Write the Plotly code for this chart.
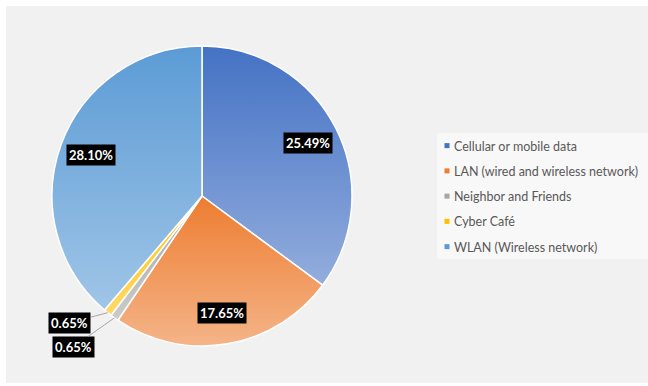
import json
import math
import plotly.graph_objects as go

# Internet access sources and their shares (percent of respondents)
categories = [
    "Cellular or mobile data",
    "LAN (wired and wireless network)",
    "Neighbor and Friends",
    "Cyber Café",
    "WLAN (Wireless network)",
]
shares = [25.49, 17.65, 0.65, 0.65, 28.10]
share_labels = ["25.49%", "17.65%", "0.65%", "0.65%", "28.10%"]
slice_colors = ["#4472C4", "#ED7D31", "#A5A5A5", "#FFC000", "#5B9BD5"]

W, H = 648, 386
CX, CY, R = 202, 196, 150          # pie centre / radius in pixels
LABEL_RADIUS = 0.79                # inside labels sit at 79% of the radius
# pixel offsets of the call-out boxes for the thin slices (by slice index)
callout_offsets = {2: (-41, 29), 3: (-38, 10)}


def px_to_paper(x, y):
    return x / W, 1 - y / H


def lighten(hex_color, amount):
    r, g, b = (int(hex_color[i:i + 2], 16) for i in (1, 3, 5))
    mix = lambda c: round(c + (255 - c) * amount)
    return "#%02x%02x%02x" % (mix(r), mix(g), mix(b))


fig = go.Figure()

fig.add_trace(go.Pie(
    labels=categories,
    values=shares,
    sort=False,
    direction="clockwise",
    rotation=0,
    textinfo="none",
    hoverinfo="label",
    showlegend=False,
    marker=dict(colors=slice_colors, line=dict(color="white", width=1.5)),
    domain=dict(x=[(CX - R) / W, (CX + R) / W],
                y=[(H - CY - R) / H, (H - CY + R) / H]),
))

# Legend entries (small square swatches)
for name, color in zip(categories, slice_colors):
    fig.add_trace(go.Scatter(
        x=[None], y=[None], mode="markers", name=name, legendgroup=name,
        marker=dict(symbol="square", size=5, color=color),
        hoverinfo="skip",
    ))

# Value labels: black boxes on each slice, call-outs for the thin ones
total = sum(shares)
angle = 0.0
annotations = []
label_font = dict(family="Lato", size=13, color="white", weight="bold")
for i, (v, txt) in enumerate(zip(shares, share_labels)):
    sweep = 360.0 * v / total
    mid = math.radians(angle + sweep / 2)
    angle += sweep
    if i in callout_offsets:
        tx, ty = px_to_paper(CX + R * math.sin(mid), CY - R * math.cos(mid))
        ax, ay = callout_offsets[i]
        annotations.append(dict(
            x=tx, y=ty, xref="paper", yref="paper", text=txt,
            showarrow=True, ax=ax, ay=ay, arrowhead=0, arrowwidth=1,
            arrowcolor="#a6a6a6", standoff=0,
            bgcolor="black", borderpad=2, font=label_font,
        ))
    else:
        lx, ly = px_to_paper(CX + LABEL_RADIUS * R * math.sin(mid),
                             CY - LABEL_RADIUS * R * math.cos(mid))
        annotations.append(dict(
            x=lx, y=ly, xref="paper", yref="paper", text=txt,
            xanchor="center", yanchor="middle",
            showarrow=False, bgcolor="black", borderpad=2, font=label_font,
        ))

x0, y0 = px_to_paper(6, 6)
x1, y1 = px_to_paper(648, 383)
lx0, ly0 = px_to_paper(437, 133)
lx1, ly1 = px_to_paper(648, 259)

fig.update_layout(
    width=W, height=H,
    margin=dict(l=0, r=0, t=0, b=0),
    paper_bgcolor="white",
    plot_bgcolor="rgba(0,0,0,0)",
    xaxis=dict(visible=False, range=[0, 1]),
    yaxis=dict(visible=False, range=[0, 1]),
    annotations=annotations,
    shapes=[
        dict(type="rect", xref="paper", yref="paper", x0=x0, y0=y1, x1=x1, y1=y0,
             fillcolor="#f1f1f1", line=dict(width=0), layer="below"),
        dict(type="rect", xref="paper", yref="paper", x0=lx0, y0=ly1, x1=lx1, y1=ly0,
             fillcolor="#f8f8f8", line=dict(width=0), layer="below"),
    ],
    legend=dict(
        x=414 / W, y=1 - 131 / H, xanchor="left", yanchor="top",
        bgcolor="rgba(0,0,0,0)", tracegroupgap=6, itemwidth=30,
        font=dict(family="Lato", size=12.5, color="#595959"),
    ),
    showlegend=True,
)

# Vertical light-to-white gradient on each slice; legend swatches sit
# right next to their text
tops = slice_colors
bottoms = [lighten(c, 0.42) for c in slice_colors]
post_js = """
var gd = document.getElementById('{plot_id}');
var tops = %s, bottoms = %s;
function restyleChart() {
  var svg = gd.querySelector('svg.main-svg');
  var defs = svg.querySelector('defs');
  var ns = 'http://www.w3.org/2000/svg';
  gd.querySelectorAll('g.slice path.surface').forEach(function (p, i) {
    var id = 'slicefill' + i;
    if (!document.getElementById(id)) {
      var g = document.createElementNS(ns, 'linearGradient');
      g.setAttribute('id', id);
      g.setAttribute('x1', '0'); g.setAttribute('y1', '0');
      g.setAttribute('x2', '0'); g.setAttribute('y2', '1');
      [[0, tops[i]], [1, bottoms[i]]].forEach(function (s) {
        var st = document.createElementNS(ns, 'stop');
        st.setAttribute('offset', s[0]);
        st.setAttribute('stop-color', s[1]);
        g.appendChild(st);
      });
      defs.appendChild(g);
    }
    p.style.fill = 'url(#' + id + ')';
  });
  gd.querySelectorAll('g.legend g.legendpoints').forEach(function (lp) {
    if (lp.getAttribute('data-shifted')) return;
    var t = lp.getAttribute('transform') || '';
    lp.setAttribute('transform', t + ' translate(13,0)');
    lp.setAttribute('data-shifted', '1');
  });
}
restyleChart();
gd.on('plotly_afterplot', restyleChart);
""" % (json.dumps(tops), json.dumps(bottoms))

fig.write_html("out.html", post_script=post_js)
